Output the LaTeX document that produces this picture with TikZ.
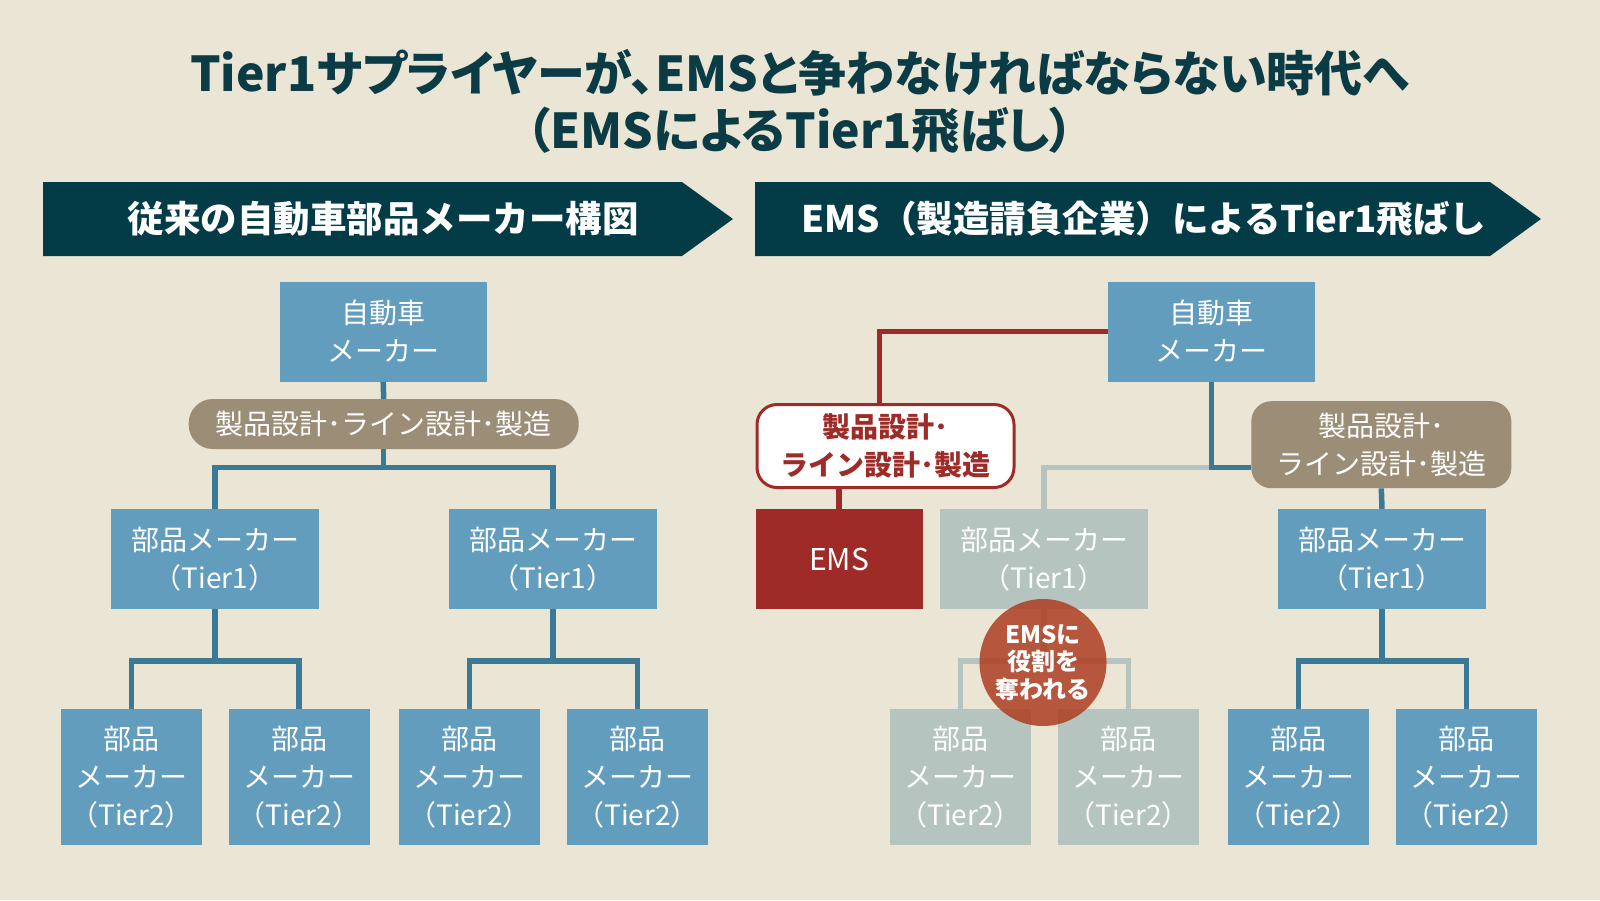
\documentclass[tikz,border=0pt]{standalone}
\usepackage{fontspec}
\setmainfont{Noto Sans CJK JP}
\newfontfamily\paltfont[RawFeature=+palt]{Noto Sans CJK JP}
\definecolor{bg}{HTML}{EAE5D5}
\definecolor{navy}{HTML}{033B46}
\definecolor{titlec}{HTML}{0B3C46}
\definecolor{boxblue}{HTML}{629DBD}
\definecolor{lineblue}{HTML}{3C7994}
\definecolor{tan}{HTML}{9C8D76}
\definecolor{grayg}{HTML}{B5C4BF}
\definecolor{emsred}{HTML}{9E2B27}
\definecolor{circ}{HTML}{AE3E22}
\tikzset{
  box/.style={fill=boxblue, text=white, inner sep=0pt, align=center,
    font=\fontsize{28}{38}\selectfont},
  tone/.style={box, minimum width=208pt, minimum height=100pt},
  ttwo/.style={box, minimum width=141pt, minimum height=136pt},
  faded/.style={fill=grayg},
  pill/.style={fill=tan, text=white, inner sep=0pt, align=center, rounded corners=20pt,
    font=\fontsize{28}{38}\selectfont},
  conn/.style={draw=lineblue, line width=5.5pt},
  gconn/.style={draw=grayg, line width=5.5pt},
  rconn/.style={draw=emsred, line width=5.5pt},
  bannertext/.style={text=white, font=\bfseries\fontsize{36.5}{40}\selectfont, inner sep=0pt}
}
\begin{document}
\begin{tikzpicture}[x=1pt,y=-1pt]
\fill[bg] (0,0) rectangle (1600,900);
\useasboundingbox (0,0) rectangle (1600,900);

% title
\node[text=titlec, font=\paltfont\bfseries\fontsize{48}{57}\selectfont, align=center, inner sep=0pt]
  (title) at (800,102) {Tier1サプライヤーが、EMSと争わなければならない時代へ\\（EMSによるTier1飛ばし）};

% banners
\fill[navy] (43,182) -- (682,182) -- (733,219) -- (682,256) -- (43,256) -- cycle;
\fill[navy] (755,182) -- (1490,182) -- (1541,219) -- (1490,256) -- (755,256) -- cycle;
\node[bannertext] (b1) at (383,219) {従来の自動車部品メーカー構図};
\node[bannertext] (b2) at (1144,219) {EMS（製造請負企業）によるTier1飛ばし};

% ---------------- left tree
\node[box, minimum width=207pt, minimum height=100pt] (LCar) at (383.2,331.6) {自動車\\メーカー};
\node[pill, minimum width=390pt, minimum height=50pt, rounded corners=24pt] (LPill) at (383.7,424) {製品設計･ライン設計･製造};
\node[tone] (LT1a) at (215,559) {部品メーカー\\（Tier1）};
\node[tone] (LT1b) at (553,559) {部品メーカー\\（Tier1）};
\node[ttwo] (L2a) at (131.5,777) {部品\\メーカー\\（Tier2）};
\node[ttwo] (L2b) at (299,777) {部品\\メーカー\\（Tier2）};
\node[ttwo] (L2c) at (469.5,777) {部品\\メーカー\\（Tier2）};
\node[ttwo] (L2d) at (637.5,777) {部品\\メーカー\\（Tier2）};
\coordinate (Lj) at (383.7,467.3);
\coordinate (Lja) at (215,661);
\coordinate (Ljb) at (553,661);
\draw[conn] (LCar.south) -- (LPill.north);
\draw[conn] (LPill.south) -- (Lj);
\draw[conn] (LT1a.north) -- (LT1a.north |- Lj) -- (LT1b.north |- Lj) -- (LT1b.north);
\draw[conn] (LT1a.south) -- (Lja);
\draw[conn] (L2a.north) -- (L2a.north |- Lja) -- (L2b.north |- Lja) -- (L2b.north);
\draw[conn] (LT1b.south) -- (Ljb);
\draw[conn] (L2c.north) -- (L2c.north |- Ljb) -- (L2d.north |- Ljb) -- (L2d.north);

% ---------------- right tree
\node[box, minimum width=207pt, minimum height=100pt] (RCar) at (1211.5,331.6) {自動車\\メーカー};
\node[draw=emsred, line width=3pt, fill=white, text=emsred, rounded corners=20pt, align=center,
  minimum width=257pt, minimum height=83pt, inner sep=0pt,
  font=\bfseries\fontsize{28}{38}\selectfont] (WPill) at (885.5,446) {製品設計･\\ライン設計･製造};
\node[box, fill=emsred, minimum width=167pt, minimum height=100pt, font=\fontsize{30}{36}\selectfont] (EMS) at (839,559) {EMS};
\node[tone, faded] (GT1) at (1044,559) {部品メーカー\\（Tier1）};
\node[pill, minimum width=260pt, minimum height=87pt] (TPill) at (1381.3,444.7) {製品設計･\\ライン設計･製造};
\node[tone] (RT1) at (1382,559) {部品メーカー\\（Tier1）};
\node[ttwo, faded] (G2a) at (960.5,777) {部品\\メーカー\\（Tier2）};
\node[ttwo, faded] (G2b) at (1128.5,777) {部品\\メーカー\\（Tier2）};
\node[ttwo] (R2a) at (1298.5,777) {部品\\メーカー\\（Tier2）};
\node[ttwo] (R2b) at (1466.5,777) {部品\\メーカー\\（Tier2）};
\coordinate (Rj) at (1211.5,467.3);
\coordinate (Gj) at (1044,661);
\coordinate (Rjb) at (1382,661);
\draw[rconn] (RCar.west) -| ([xshift=-6pt]WPill.north);
\draw[rconn] (WPill.south -| EMS.north) -- (EMS.north);
\draw[gconn] (Rj) -- (GT1.north |- Rj) -- (GT1.north);
\draw[conn] (RCar.south) -- (Rj) -- (Rj -| TPill.west);
\draw[conn] (TPill.south) -- (RT1.north);
\draw[gconn] (GT1.south) -- (Gj);
\draw[gconn] (G2a.north) -- (G2a.north |- Gj) -- (G2b.north |- Gj) -- (G2b.north);
\draw[conn] (RT1.south) -- (Rjb);
\draw[conn] (R2a.north) -- (R2a.north |- Rjb) -- (R2b.north |- Rjb) -- (R2b.north);

\node[circle, fill=circ, fill opacity=0.85, text opacity=1, text=white, minimum size=127pt, inner sep=0pt,
  align=center, font=\bfseries\fontsize{24}{27.5}\selectfont] (circ) at (1043,662.5) {EMSに\\役割を\\奪われる};
\end{tikzpicture}
\end{document}
